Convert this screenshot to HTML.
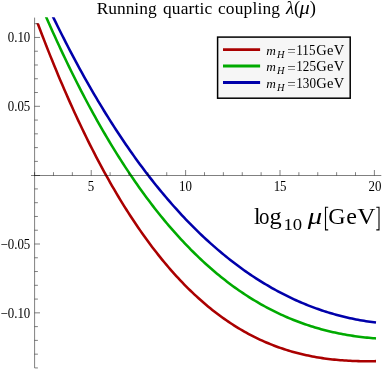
<!DOCTYPE html>
<html><head><meta charset="utf-8"><title>Running quartic coupling</title>
<style>html,body{margin:0;padding:0;background:#fff}svg{display:block;will-change:transform}</style></head>
<body>
<svg width="383" height="370" viewBox="0 0 383 370">
<defs><clipPath id="cp"><rect x="30" y="17.3" width="353" height="353"/></clipPath><clipPath id="cr"><rect x="30" y="23.2" width="353" height="347"/></clipPath></defs>
<rect width="383" height="370" fill="#fff"/>
<g fill="none" stroke-width="2.55" clip-path="url(#cp)" stroke-linecap="butt" stroke-linejoin="round">
<path stroke="#00a" d="M40.0,-10.86 L42.0,-6.51 L44.0,-2.19 L46.0,2.09 L48.0,6.33 L50.0,10.54 L52.0,14.70 L54.0,18.84 L56.0,22.93 L58.0,26.99 L60.0,31.01 L62.0,35.00 L64.0,38.95 L66.0,42.86 L68.0,46.74 L70.0,50.58 L72.0,54.39 L74.0,58.17 L76.0,61.91 L78.0,65.61 L80.0,69.28 L82.0,72.92 L84.0,76.52 L86.0,80.09 L88.0,83.63 L90.0,87.13 L92.0,90.60 L94.0,94.04 L96.0,97.44 L98.0,100.81 L100.0,104.15 L102.0,107.45 L104.0,110.73 L106.0,113.97 L108.0,117.18 L110.0,120.36 L112.0,123.51 L114.0,126.63 L116.0,129.71 L118.0,132.77 L120.0,135.79 L122.0,138.78 L124.0,141.75 L126.0,144.68 L128.0,147.59 L130.0,150.46 L132.0,153.30 L134.0,156.12 L136.0,158.90 L138.0,161.66 L140.0,164.39 L142.0,167.09 L144.0,169.76 L146.0,172.40 L148.0,175.01 L150.0,177.60 L152.0,180.15 L154.0,182.68 L156.0,185.19 L158.0,187.66 L160.0,190.11 L162.0,192.53 L164.0,194.92 L166.0,197.29 L168.0,199.63 L170.0,201.94 L172.0,204.23 L174.0,206.49 L176.0,208.72 L178.0,210.93 L180.0,213.11 L182.0,215.27 L184.0,217.40 L186.0,219.51 L188.0,221.59 L190.0,223.64 L192.0,225.67 L194.0,227.68 L196.0,229.66 L198.0,231.62 L200.0,233.55 L202.0,235.46 L204.0,237.34 L206.0,239.20 L208.0,241.04 L210.0,242.85 L212.0,244.64 L214.0,246.41 L216.0,248.15 L218.0,249.87 L220.0,251.57 L222.0,253.24 L224.0,254.89 L226.0,256.52 L228.0,258.13 L230.0,259.71 L232.0,261.27 L234.0,262.81 L236.0,264.33 L238.0,265.82 L240.0,267.30 L242.0,268.75 L244.0,270.18 L246.0,271.59 L248.0,272.98 L250.0,274.34 L252.0,275.69 L254.0,277.02 L256.0,278.32 L258.0,279.60 L260.0,280.87 L262.0,282.11 L264.0,283.33 L266.0,284.53 L268.0,285.72 L270.0,286.88 L272.0,288.02 L274.0,289.14 L276.0,290.25 L278.0,291.33 L280.0,292.39 L282.0,293.44 L284.0,294.46 L286.0,295.47 L288.0,296.46 L290.0,297.43 L292.0,298.38 L294.0,299.31 L296.0,300.22 L298.0,301.11 L300.0,301.99 L302.0,302.85 L304.0,303.68 L306.0,304.50 L308.0,305.31 L310.0,306.09 L312.0,306.86 L314.0,307.61 L316.0,308.34 L318.0,309.05 L320.0,309.75 L322.0,310.43 L324.0,311.09 L326.0,311.74 L328.0,312.36 L330.0,312.97 L332.0,313.57 L334.0,314.14 L336.0,314.70 L338.0,315.25 L340.0,315.77 L342.0,316.28 L344.0,316.78 L346.0,317.25 L348.0,317.72 L350.0,318.16 L352.0,318.59 L354.0,319.00 L356.0,319.40 L358.0,319.78 L360.0,320.14 L362.0,320.49 L364.0,320.82 L366.0,321.14 L368.0,321.44 L370.0,321.73 L372.0,322.00 L374.0,322.26 L376.0,322.50"/>
<path stroke="#0a0" d="M35.0,-9.27 L37.0,-4.47 L39.0,0.29 L41.0,5.01 L43.0,9.69 L45.0,14.32 L47.0,18.91 L49.0,23.45 L51.0,27.96 L53.0,32.42 L55.0,36.84 L57.0,41.22 L59.0,45.55 L61.0,49.85 L63.0,54.10 L65.0,58.31 L67.0,62.48 L69.0,66.61 L71.0,70.70 L73.0,74.75 L75.0,78.76 L77.0,82.73 L79.0,86.66 L81.0,90.55 L83.0,94.41 L85.0,98.22 L87.0,101.99 L89.0,105.73 L91.0,109.42 L93.0,113.08 L95.0,116.70 L97.0,120.29 L99.0,123.83 L101.0,127.34 L103.0,130.81 L105.0,134.25 L107.0,137.64 L109.0,141.00 L111.0,144.33 L113.0,147.62 L115.0,150.87 L117.0,154.09 L119.0,157.27 L121.0,160.41 L123.0,163.52 L125.0,166.60 L127.0,169.64 L129.0,172.65 L131.0,175.62 L133.0,178.56 L135.0,181.46 L137.0,184.33 L139.0,187.17 L141.0,189.97 L143.0,192.74 L145.0,195.48 L147.0,198.18 L149.0,200.85 L151.0,203.49 L153.0,206.10 L155.0,208.67 L157.0,211.22 L159.0,213.73 L161.0,216.21 L163.0,218.66 L165.0,221.07 L167.0,223.46 L169.0,225.82 L171.0,228.14 L173.0,230.44 L175.0,232.70 L177.0,234.94 L179.0,237.14 L181.0,239.32 L183.0,241.47 L185.0,243.59 L187.0,245.67 L189.0,247.73 L191.0,249.77 L193.0,251.77 L195.0,253.74 L197.0,255.69 L199.0,257.61 L201.0,259.50 L203.0,261.36 L205.0,263.20 L207.0,265.01 L209.0,266.79 L211.0,268.55 L213.0,270.28 L215.0,271.98 L217.0,273.66 L219.0,275.31 L221.0,276.93 L223.0,278.53 L225.0,280.10 L227.0,281.65 L229.0,283.18 L231.0,284.67 L233.0,286.15 L235.0,287.60 L237.0,289.02 L239.0,290.42 L241.0,291.80 L243.0,293.15 L245.0,294.48 L247.0,295.78 L249.0,297.07 L251.0,298.32 L253.0,299.56 L255.0,300.77 L257.0,301.96 L259.0,303.13 L261.0,304.28 L263.0,305.40 L265.0,306.50 L267.0,307.58 L269.0,308.64 L271.0,309.68 L273.0,310.70 L275.0,311.69 L277.0,312.66 L279.0,313.62 L281.0,314.55 L283.0,315.46 L285.0,316.36 L287.0,317.23 L289.0,318.08 L291.0,318.91 L293.0,319.73 L295.0,320.52 L297.0,321.29 L299.0,322.05 L301.0,322.79 L303.0,323.51 L305.0,324.21 L307.0,324.89 L309.0,325.55 L311.0,326.20 L313.0,326.82 L315.0,327.43 L317.0,328.03 L319.0,328.60 L321.0,329.16 L323.0,329.70 L325.0,330.22 L327.0,330.73 L329.0,331.22 L331.0,331.70 L333.0,332.15 L335.0,332.60 L337.0,333.02 L339.0,333.43 L341.0,333.83 L343.0,334.21 L345.0,334.57 L347.0,334.92 L349.0,335.26 L351.0,335.58 L353.0,335.88 L355.0,336.17 L357.0,336.45 L359.0,336.71 L361.0,336.96 L363.0,337.19 L365.0,337.42 L367.0,337.62 L369.0,337.82 L371.0,338.00 L373.0,338.17 L375.0,338.32 L376.0,338.40"/>
<path stroke="#a00" clip-path="url(#cr)" d="M36.3,19.64 L38.3,24.98 L40.3,30.26 L42.3,35.49 L44.3,40.66 L46.3,45.78 L48.3,50.85 L50.3,55.86 L52.3,60.82 L54.3,65.73 L56.3,70.59 L58.3,75.39 L60.3,80.14 L62.3,84.83 L64.3,89.48 L66.3,94.08 L68.3,98.62 L70.3,103.11 L72.3,107.56 L74.3,111.95 L76.3,116.29 L78.3,120.59 L80.3,124.83 L82.3,129.03 L84.3,133.17 L86.3,137.27 L88.3,141.32 L90.3,145.32 L92.3,149.28 L94.3,153.18 L96.3,157.04 L98.3,160.86 L100.3,164.62 L102.3,168.34 L104.3,172.02 L106.3,175.65 L108.3,179.23 L110.3,182.77 L112.3,186.26 L114.3,189.71 L116.3,193.11 L118.3,196.48 L120.3,199.79 L122.3,203.07 L124.3,206.30 L126.3,209.48 L128.3,212.63 L130.3,215.73 L132.3,218.79 L134.3,221.81 L136.3,224.79 L138.3,227.73 L140.3,230.62 L142.3,233.48 L144.3,236.29 L146.3,239.06 L148.3,241.80 L150.3,244.49 L152.3,247.15 L154.3,249.77 L156.3,252.34 L158.3,254.88 L160.3,257.38 L162.3,259.85 L164.3,262.27 L166.3,264.66 L168.3,267.01 L170.3,269.33 L172.3,271.60 L174.3,273.85 L176.3,276.05 L178.3,278.22 L180.3,280.36 L182.3,282.46 L184.3,284.52 L186.3,286.55 L188.3,288.54 L190.3,290.51 L192.3,292.43 L194.3,294.33 L196.3,296.19 L198.3,298.02 L200.3,299.81 L202.3,301.57 L204.3,303.30 L206.3,305.00 L208.3,306.67 L210.3,308.31 L212.3,309.91 L214.3,311.48 L216.3,313.03 L218.3,314.54 L220.3,316.02 L222.3,317.48 L224.3,318.90 L226.3,320.29 L228.3,321.66 L230.3,323.00 L232.3,324.30 L234.3,325.58 L236.3,326.84 L238.3,328.06 L240.3,329.26 L242.3,330.43 L244.3,331.57 L246.3,332.69 L248.3,333.78 L250.3,334.85 L252.3,335.89 L254.3,336.90 L256.3,337.89 L258.3,338.85 L260.3,339.79 L262.3,340.70 L264.3,341.60 L266.3,342.46 L268.3,343.30 L270.3,344.12 L272.3,344.92 L274.3,345.70 L276.3,346.45 L278.3,347.18 L280.3,347.88 L282.3,348.57 L284.3,349.23 L286.3,349.87 L288.3,350.50 L290.3,351.10 L292.3,351.68 L294.3,352.24 L296.3,352.78 L298.3,353.30 L300.3,353.80 L302.3,354.29 L304.3,354.75 L306.3,355.19 L308.3,355.62 L310.3,356.03 L312.3,356.42 L314.3,356.80 L316.3,357.15 L318.3,357.49 L320.3,357.81 L322.3,358.12 L324.3,358.41 L326.3,358.68 L328.3,358.94 L330.3,359.19 L332.3,359.41 L334.3,359.63 L336.3,359.82 L338.3,360.01 L340.3,360.18 L342.3,360.33 L344.3,360.48 L346.3,360.60 L348.3,360.72 L350.3,360.82 L352.3,360.91 L354.3,360.99 L356.3,361.06 L358.3,361.11 L360.3,361.16 L362.3,361.19 L364.3,361.21 L366.3,361.22 L368.3,361.22 L370.3,361.21 L372.3,361.19 L374.3,361.15 L376.0,361.12"/>
</g>
<g stroke="#000" stroke-width="0.5" fill="none">
<path d="M31,175.5H381.3"/>
<path d="M34.6,17.6V367.9"/>
<path d="M34.60,175.5v-3.3"/>
<path d="M53.48,175.5v-3.3"/>
<path d="M72.35,175.5v-3.3"/>
<path d="M91.23,175.5v-5.5"/>
<path d="M110.11,175.5v-3.3"/>
<path d="M128.98,175.5v-3.3"/>
<path d="M147.86,175.5v-3.3"/>
<path d="M166.74,175.5v-3.3"/>
<path d="M185.62,175.5v-5.5"/>
<path d="M204.49,175.5v-3.3"/>
<path d="M223.37,175.5v-3.3"/>
<path d="M242.25,175.5v-3.3"/>
<path d="M261.12,175.5v-3.3"/>
<path d="M280.00,175.5v-5.5"/>
<path d="M298.88,175.5v-3.3"/>
<path d="M317.75,175.5v-3.3"/>
<path d="M336.63,175.5v-3.3"/>
<path d="M355.51,175.5v-3.3"/>
<path d="M374.39,175.5v-5.5"/>
<path d="M34.6,367.93h3.3"/>
<path d="M34.6,354.16h3.3"/>
<path d="M34.6,340.39h3.3"/>
<path d="M34.6,326.62h3.3"/>
<path d="M34.6,312.85h5.4"/>
<path d="M34.6,299.08h3.3"/>
<path d="M34.6,285.31h3.3"/>
<path d="M34.6,271.54h3.3"/>
<path d="M34.6,257.77h3.3"/>
<path d="M34.6,244.00h5.4"/>
<path d="M34.6,230.23h3.3"/>
<path d="M34.6,216.46h3.3"/>
<path d="M34.6,202.69h3.3"/>
<path d="M34.6,188.92h3.3"/>
<path d="M34.6,175.50h5.4"/>
<path d="M34.6,161.38h3.3"/>
<path d="M34.6,147.61h3.3"/>
<path d="M34.6,133.84h3.3"/>
<path d="M34.6,120.07h3.3"/>
<path d="M34.6,106.30h5.4"/>
<path d="M34.6,92.53h3.3"/>
<path d="M34.6,78.76h3.3"/>
<path d="M34.6,64.99h3.3"/>
<path d="M34.6,51.22h3.3"/>
<path d="M34.6,37.45h5.4"/>
<path d="M34.6,23.68h3.3"/>
</g>
<g font-family="Liberation Serif, serif" font-size="14.5px" fill="#000">
<text transform="translate(91.03,191) scale(0.89,1)" text-anchor="middle">5</text>
<text transform="translate(185.52,191) scale(0.89,1)" text-anchor="middle">10</text>
<text transform="translate(280.10,191) scale(0.89,1)" text-anchor="middle">15</text>
<text transform="translate(374.89,191) scale(0.89,1)" text-anchor="middle">20</text>
<text transform="translate(30.3,42.3) scale(0.89,1)" text-anchor="end">0.10</text>
<text transform="translate(30.3,111.1) scale(0.89,1)" text-anchor="end">0.05</text>
<text transform="translate(30.3,248.8) scale(0.89,1)" text-anchor="end">−0.05</text>
<text transform="translate(30.3,317.7) scale(0.89,1)" text-anchor="end">−0.10</text>
</g>
<g font-family="Liberation Serif, serif" font-size="17.4px" fill="#000">
<text x="96.7" y="13.5">Running</text>
<text x="163.0" y="13.5" letter-spacing="0.17">quartic</text>
<text x="217.9" y="13.5" letter-spacing="0.17">coupling</text>
<text x="285.9" y="13.5" font-style="italic" font-size="18.8px">λ</text>
<text x="294.0" y="13.7" font-size="18.6px">(</text>
<text transform="translate(299.5,13.5) scale(1.13,1)" font-style="italic" font-size="18px">μ</text>
<text x="309.7" y="13.7" font-size="18.6px">)</text>
</g>
<g font-family="Liberation Serif, serif" fill="#000">
<text x="254.1" y="224.3" font-size="23.5px">l</text>
<text transform="translate(258.9,224.3) scale(0.9,1)" font-size="23.2px">o</text>
<text transform="translate(269.5,224.3) scale(1.05,1)" font-size="23.2px">g</text>
<text transform="translate(283.5,230.0) scale(1.15,1)" font-size="16.3px">10</text>
<text transform="translate(307.8,224.3) scale(1.2,1)" font-size="24px" font-style="italic">μ</text>
<text x="328.3" y="224.3" font-size="24px">G</text>
<text x="346.3" y="224.3" font-size="24px">e</text>
<text transform="translate(357.2,224.3) scale(1.05,1)" font-size="24px">V</text>
<path d="M328.2,207.3H325.5V229.9H328.2" fill="none" stroke="#000" stroke-width="1.1"/>
<path d="M376.3,207.3H379.0V229.9H376.3" fill="none" stroke="#000" stroke-width="1.1"/>
</g>
<rect x="217.6" y="37.1" width="132.6" height="61.1" fill="#f6f6f6" stroke="#000" stroke-width="1.5"/>
<path d="M223,49.60H260.1" stroke="#a00" stroke-width="2.9" fill="none"/>
<g font-family="Liberation Serif, serif" fill="#000" font-size="14.5px">
<text x="266.2" y="55.00" font-style="italic" font-size="13.3px">m</text>
<text x="277.0" y="57.90" font-style="italic" font-size="10.4px">H</text>
<text x="287.3" y="56.10" font-size="15px" fill="#333">=</text>
<text transform="translate(296.3,55.00) scale(0.905,1)">115</text>
<text x="316.2" y="55.00" letter-spacing="0.3">GeV</text>
</g>
<path d="M223,66.05H260.1" stroke="#0a0" stroke-width="2.9" fill="none"/>
<g font-family="Liberation Serif, serif" fill="#000" font-size="14.5px">
<text x="266.2" y="71.45" font-style="italic" font-size="13.3px">m</text>
<text x="277.0" y="74.35" font-style="italic" font-size="10.4px">H</text>
<text x="287.3" y="72.55" font-size="15px" fill="#333">=</text>
<text transform="translate(296.3,71.45) scale(0.905,1)">125</text>
<text x="316.2" y="71.45" letter-spacing="0.3">GeV</text>
</g>
<path d="M223,82.50H260.1" stroke="#00a" stroke-width="2.9" fill="none"/>
<g font-family="Liberation Serif, serif" fill="#000" font-size="14.5px">
<text x="266.2" y="87.90" font-style="italic" font-size="13.3px">m</text>
<text x="277.0" y="90.80" font-style="italic" font-size="10.4px">H</text>
<text x="287.3" y="89.00" font-size="15px" fill="#333">=</text>
<text transform="translate(296.3,87.90) scale(0.905,1)">130</text>
<text x="316.2" y="87.90" letter-spacing="0.3">GeV</text>
</g>
</svg>
</body></html>
